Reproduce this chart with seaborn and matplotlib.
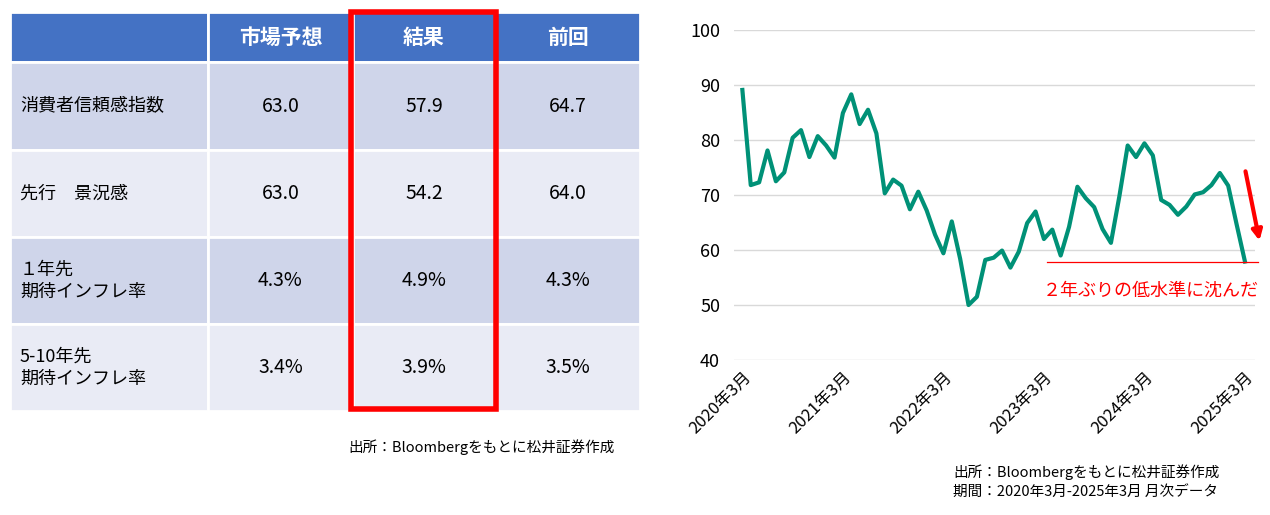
import matplotlib
matplotlib.use("Agg")
import matplotlib.pyplot as plt
import seaborn as sns
import pandas as pd
from matplotlib.patches import Rectangle, FancyArrowPatch

plt.rcParams["font.family"] = "Noto Sans CJK JP"

sentiment = [89.1, 71.8, 72.3, 78.1, 72.5, 74.1, 80.4, 81.8, 76.9, 80.7,
             79.0, 76.8, 84.9, 88.3, 82.9, 85.5, 81.2, 70.3, 72.8, 71.7, 67.4, 70.6,
             67.2, 62.8, 59.4, 65.2, 58.4, 50.0, 51.5, 58.2, 58.6, 59.9, 56.8, 59.7,
             64.9, 67.0, 62.0, 63.7, 59.0, 64.2, 71.5, 69.4, 67.8, 63.8, 61.3, 69.7,
             79.0, 76.9, 79.4, 77.2, 69.1, 68.2, 66.4, 67.9, 70.1, 70.5, 71.8, 74.0,
             71.7, 64.7, 57.9]
xtick_labels = ["2020年3月", "2021年3月", "2022年3月", "2023年3月", "2024年3月", "2025年3月"]

col_headers = ["", "市場予想", "結果", "前回"]
row_labels = ["消費者信頼感指数", "先行　景況感", "１年先\n期待インフレ率", "5-10年先\n期待インフレ率"]
forecast = ["63.0", "63.0", "4.3%", "3.4%"]
result = ["57.9", "54.2", "4.9%", "3.9%"]
previous = ["64.7", "64.0", "4.3%", "3.5%"]

W, H = 1270, 515
fig = plt.figure(figsize=(12.7, 5.15), dpi=100)

# ---- table (pixel coordinates) ----
tax = fig.add_axes([0, 0, 1, 1])
tax.set_xlim(0, W); tax.set_ylim(H, 0); tax.axis("off")
cols = [10, 208, 353, 495, 640]
rows = [12, 62, 150, 237, 324, 411]
for j in range(4):
    tax.add_patch(Rectangle((cols[j], rows[0]), cols[j+1]-cols[j], rows[1]-rows[0],
                            facecolor="#4472C4", edgecolor="white", lw=2))
    tax.text((cols[j]+cols[j+1])/2, (rows[0]+rows[1])/2, col_headers[j], color="white",
             fontsize=15, fontweight="bold", ha="center", va="center")
for i in range(4):
    fc = "#CFD5EA" if i % 2 == 0 else "#E9EBF5"
    vals = [row_labels[i], forecast[i], result[i], previous[i]]
    for j in range(4):
        tax.add_patch(Rectangle((cols[j], rows[i+1]), cols[j+1]-cols[j], rows[i+2]-rows[i+1],
                                facecolor=fc, edgecolor="white", lw=2))
        if j == 0:
            tax.text(cols[0]+10, (rows[i+1]+rows[i+2])/2, vals[j], fontsize=13,
                     ha="left", va="center", linespacing=1.3)
        else:
            tax.text((cols[j]+cols[j+1])/2, (rows[i+1]+rows[i+2])/2, vals[j], fontsize=14,
                     ha="center", va="center")
tax.add_patch(Rectangle((351, 12), 145, 397, facecolor="none", edgecolor="#FF0000", lw=4))
tax.text(615, 447, "出所：Bloombergをもとに松井証券作成", fontsize=10.5, ha="right", va="center")
tax.text(953, 472, "出所：Bloombergをもとに松井証券作成", fontsize=10.5, ha="left", va="center")
tax.text(953, 492, "期間：2020年3月-2025年3月 月次データ", fontsize=10.5, ha="left", va="center")

# ---- line chart ----
ax = fig.add_axes([734/W, 1-360/H, (1255-734)/W, 330/H])
df = pd.DataFrame({"i": range(len(sentiment)), "v": sentiment})
sns.lineplot(data=df, x="i", y="v", ax=ax, color="#009177", lw=3)
ax.set_xlim(-1, 61.2)
ax.set_ylim(40, 100)
ax.set_yticks(range(40, 101, 10))
ax.set_xticks(range(0, 61, 12))
ax.set_xticklabels(xtick_labels, rotation=45, ha="right", rotation_mode="anchor", fontsize=12)
ax.tick_params(axis="y", labelsize=13, length=0, pad=10)
ax.tick_params(axis="x", length=0, pad=6)
ax.grid(axis="y", color="#D9D9D9", lw=1)
ax.set_axisbelow(True)
for s in ax.spines.values():
    s.set_visible(False)
ax.set_xlabel(""); ax.set_ylabel("")
ax.plot([36.4, 61.5], [57.9, 57.9], color="#FF0000", lw=0.9, clip_on=False)
ax.add_patch(FancyArrowPatch((60, 74.8), (61.8, 61.2), arrowstyle="-|>", mutation_scale=15,
                             color="#FF0000", lw=3, clip_on=False))
ax.text(61.6, 52.6, "２年ぶりの低水準に沈んだ", color="#FF0000", fontsize=13,
        ha="right", va="center")

fig.savefig("out.png", dpi=100)
